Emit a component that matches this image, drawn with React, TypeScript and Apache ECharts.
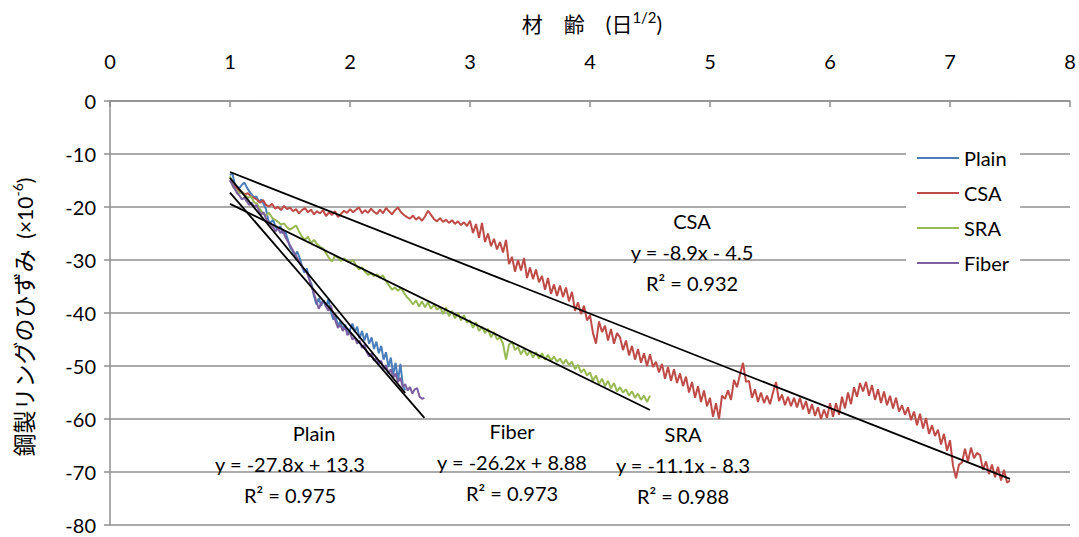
import React, { useEffect, useRef } from "react";
import * as echarts from "echarts";

// ---- data ----
const SERIES_NAMES = ["Plain", "CSA", "SRA", "Fiber"];
const SERIES_COLORS = ["#4a7ebb", "#be4b48", "#98b954", "#7d60a0"];

// Plain: x from 1.00 step 0.02
const PLAIN_X0 = 1.0;
const PLAIN_DX = 0.02;
const plainY = [
  -14.0, -13.6, -15.8, -16.2, -16.4, -15.8, -15.4, -16.3, -17.0, -17.6,
  -18.2, -18.0, -19.0, -18.6, -19.4, -20.4, -22.6, -23.0, -22.4, -23.8,
  -24.2, -23.6, -25.0, -24.6, -26.0, -27.6, -28.2, -29.2, -28.4, -29.6,
  -31.2, -32.4, -31.6, -33.6, -34.6, -36.8, -38.4, -37.2, -38.6, -37.6,
  -38.8, -37.4, -39.6, -41.2, -40.6, -42.4, -41.6, -43.0, -42.2, -44.0,
  -43.2, -42.0, -43.6, -42.6, -44.8, -43.4, -45.2, -43.8, -45.8, -44.6,
  -46.8, -45.4, -47.6, -46.2, -48.8, -47.4, -50.2, -48.4, -51.6, -49.4,
  -52.8, -49.6, -53.6, -54.6,
];

// Fiber: x from 1.00 step 0.02
const FIBER_X0 = 1.0;
const FIBER_DX = 0.02;
const fiberY = [
  -14.9, -15.8, -16.6, -17.4, -17.9, -18.6, -18.2, -19.0, -19.6, -19.2,
  -20.0, -19.6, -20.6, -21.4, -21.0, -22.2, -22.8, -23.4, -23.8, -24.6,
  -24.0, -24.9, -24.4, -25.6, -26.4, -27.2, -28.0, -28.8, -29.6, -30.4,
  -31.2, -31.8, -32.4, -33.6, -35.0, -36.4, -37.8, -39.2, -38.2, -37.6,
  -38.8, -39.6, -38.6, -40.2, -41.6, -42.8, -42.2, -43.4, -42.6, -44.2,
  -43.6, -45.0, -44.6, -45.8, -45.2, -46.6, -46.0, -47.4, -48.2, -47.6,
  -49.0, -48.4, -49.6, -49.0, -50.6, -49.8, -51.4, -50.6, -52.2, -51.4,
  -53.0, -52.2, -54.0, -53.4, -54.6, -54.0, -55.2, -54.4, -54.2, -55.8,
  -56.2, -56.0,
];

// SRA: x from 1.00 step 0.025
const SRA_X0 = 1.0;
const SRA_DX = 0.025;
const sraY = [
  -14.2, -16.2, -16.8, -17.4, -17.2, -17.8, -18.3, -18.0, -19.1, -19.4,
  -20.4, -21.2, -21.6, -21.1, -22.0, -22.4, -22.8, -23.3, -23.1, -23.8,
  -24.3, -23.9, -23.5, -24.6, -25.6, -26.2, -25.6, -26.8, -26.2, -27.0,
  -27.5, -27.8, -28.7, -29.6, -30.3, -29.2, -29.6, -30.2, -29.7, -30.1,
  -30.4, -30.0, -31.0, -31.8, -31.4, -32.2, -32.8, -32.5, -33.0, -32.7,
  -33.3, -32.9, -34.0, -34.8, -35.6, -35.2, -35.8, -35.3, -36.2, -37.0,
  -37.6, -38.4, -37.6, -38.8, -37.8, -38.9, -38.0, -39.2, -38.4, -39.4,
  -38.8, -40.2, -39.0, -40.6, -39.6, -41.0, -40.0, -41.4, -40.4, -41.8,
  -41.4, -42.8, -41.8, -43.4, -42.6, -43.8, -43.0, -44.6, -43.6, -45.0,
  -44.6, -45.8, -48.8, -46.0, -45.4, -47.0, -46.4, -47.8, -46.8, -48.0,
  -47.2, -48.4, -47.4, -48.6, -47.6, -48.8, -47.9, -49.0, -48.2, -49.2,
  -48.6, -49.6, -48.8, -49.8, -49.2, -50.6, -49.8, -51.2, -50.6, -51.8,
  -51.2, -52.8, -51.8, -53.4, -52.4, -53.8, -52.8, -54.2, -53.2, -54.8,
  -54.0, -55.0, -54.4, -55.6, -54.8, -56.0, -55.2, -56.4, -55.6, -56.8,
  -55.6,
];

// CSA: x from 1.00 step 0.025
const CSA_X0 = 1.0;
const CSA_DX = 0.025;
const csaY = [
  -15.0, -15.8, -16.3, -16.9, -17.2, -17.6, -17.4, -18.0, -18.3, -18.6,
  -19.2, -18.7, -19.6, -19.9, -19.4, -20.3, -20.0, -20.6, -19.8, -20.4,
  -20.1, -20.8, -20.4, -21.2, -20.6, -20.2, -21.0, -20.5, -21.4, -20.8,
  -21.2, -20.6, -21.7, -21.0, -21.5, -20.8, -21.9, -21.3, -20.7, -21.1,
  -20.4, -21.0, -20.5, -20.1, -21.2, -20.6, -21.1, -20.3, -20.9, -21.3,
  -20.5, -21.2, -20.2, -20.8, -21.4, -20.6, -20.1, -21.0, -21.5, -21.9,
  -22.2, -21.6, -22.4, -21.9, -22.6, -21.8, -20.7, -21.5, -22.3, -22.7,
  -22.1, -22.8, -22.4, -23.0, -22.5, -23.2, -22.7, -23.4, -22.9, -23.6,
  -22.6, -24.9, -23.2, -25.8, -23.0, -26.6, -25.0, -27.4, -26.0, -28.0,
  -26.6, -28.6, -26.2, -30.8, -29.4, -32.2, -30.0, -32.0, -29.6, -33.4,
  -31.4, -33.6, -31.8, -34.2, -33.0, -35.6, -33.4, -36.4, -34.6, -36.8,
  -34.8, -37.0, -35.2, -37.8, -36.0, -39.6, -38.0, -40.2, -38.6, -41.4,
  -40.4, -43.8, -45.8, -41.6, -43.6, -42.4, -45.2, -43.0, -45.8, -43.8,
  -44.6, -47.0, -45.2, -48.0, -46.2, -48.8, -46.8, -49.4, -47.6, -50.0,
  -47.8, -50.2, -49.2, -51.2, -49.6, -52.4, -50.2, -52.8, -50.6, -53.2,
  -51.4, -53.8, -52.0, -55.0, -53.0, -56.0, -53.8, -56.8, -54.6, -57.6,
  -56.0, -59.6, -57.0, -60.0, -55.6, -56.2, -54.6, -56.4, -52.6, -54.0,
  -51.6, -49.4, -53.0, -52.8, -56.0, -54.4, -56.8, -55.0, -57.0, -55.6,
  -57.2, -55.0, -53.0, -56.6, -55.4, -57.4, -55.8, -57.6, -56.0, -57.8,
  -56.0, -58.2, -56.6, -59.0, -57.2, -59.4, -57.8, -60.0, -58.2, -59.8,
  -57.0, -59.6, -57.0, -59.2, -55.8, -58.0, -55.0, -57.2, -54.0, -55.8,
  -53.2, -54.8, -53.0, -55.6, -53.6, -56.4, -54.4, -57.0, -54.8, -57.4,
  -55.6, -58.0, -56.0, -58.6, -57.4, -59.2, -57.8, -60.2, -58.6, -61.2,
  -59.0, -61.8, -59.8, -62.8, -61.2, -63.2, -62.0, -64.8, -62.8, -66.0,
  -64.0, -68.8, -71.2, -68.6, -68.2, -65.6, -68.0, -65.4, -67.4, -66.4,
  -66.8, -69.6, -68.0, -70.4, -68.6, -71.0, -69.0, -71.6, -69.6, -72.0,
  -71.6,
];

// trend line end points [x, y]
const plainTrend = [[1.0, -14.5], [2.46, -55.1]];
const csaTrend = [[1.0, -13.4], [7.5, -71.3]];
const sraTrend = [[1.0, -19.4], [4.5, -58.3]];
const fiberTrend = [[1.0, -17.3], [2.62, -59.8]];

// annotation texts
const annotTitles = ["Plain", "Fiber", "SRA", "CSA"];
const annotEquations = ["y = -27.8x + 13.3", "y = -26.2x + 8.88", "y = -11.1x - 8.3", "y = -8.9x - 4.5"];
const annotR2 = ["R² = 0.975", "R² = 0.973", "R² = 0.988", "R² = 0.932"];

const X_TITLE = "材\u3000齢\u3000(日";
const X_TITLE_SUP = "1/2";
const Y_TITLE = "鋼製リングのひずみ";
const Y_TITLE_UNIT = "(×10";
const Y_TITLE_SUP = "-6";

const toPairs = (x0: number, dx: number, ys: number[]) =>
  ys.map((y, i) => [Math.round((x0 + i * dx) * 1000) / 1000, y]);

const FONT = "Lato, 'Noto Sans CJK JP', sans-serif";

export default function App() {
  const ref = useRef<HTMLDivElement>(null);
  useEffect(() => {
    if (!ref.current) return;
    const chart = echarts.init(ref.current, undefined, { renderer: "svg" });
    const dataSets = [
      toPairs(PLAIN_X0, PLAIN_DX, plainY),
      toPairs(CSA_X0, CSA_DX, csaY),
      toPairs(SRA_X0, SRA_DX, sraY),
      toPairs(FIBER_X0, FIBER_DX, fiberY),
    ];
    const trends = [plainTrend, csaTrend, sraTrend, fiberTrend];
    const gridColor = "#8f8f8f";

    // annotation positions (pixel layout)
    const annotPos = [
      [290, 433],
      [512, 431],
      [683, 434],
      [692, 221],
    ];
    const graphics: any[] = [];
    annotTitles.forEach((t, i) => {
      const [cx, cy] = annotPos[i];
      [t, annotEquations[i], annotR2[i]].forEach((s, k) => {
        graphics.push({
          type: "text",
          x: i === 0 && k === 0 ? cx + 24 : cx,
          y: cy + k * 31,
          z: 10,
          style: {
            text: s,
            fontSize: 20,
            fontFamily: FONT,
            fill: "#000",
            align: "center",
            verticalAlign: "middle",
          },
        });
      });
    });
    graphics.push({
      type: "text",
      x: 592,
      y: 23,
      style: {
        text: X_TITLE + "{s|" + X_TITLE_SUP + "})",
        fontSize: 21,
        lineHeight: 28,
        fontFamily: FONT,
        fill: "#000",
        align: "center",
        verticalAlign: "middle",
        rich: { s: { fontSize: 15, lineHeight: 16, verticalAlign: "top", fontFamily: FONT } },
      },
    });
    graphics.push({
      type: "text",
      x: 24,
      y: 317,
      rotation: Math.PI / 2,
      style: {
        text: Y_TITLE + "{u|  " + Y_TITLE_UNIT + "}{s|" + Y_TITLE_SUP + "}{u|)}",
        fontSize: 23,
        lineHeight: 28,
        fontFamily: FONT,
        fill: "#000",
        align: "center",
        verticalAlign: "middle",
        rich: {
          u: { fontSize: 21, lineHeight: 28, fontFamily: FONT },
          s: { fontSize: 14, lineHeight: 15, verticalAlign: "top", fontFamily: FONT },
        },
      },
    });

    const option: any = {
      animation: false,
      backgroundColor: "#fff",
      grid: { left: 110, top: 101, width: 960, height: 424, containLabel: false },
      xAxis: {
        type: "value",
        position: "top",
        min: 0,
        max: 8,
        interval: 1,
        axisLine: { show: true, onZero: false, lineStyle: { color: gridColor, width: 1.5 } },
        axisTick: { show: true, inside: true, length: 6, lineStyle: { color: gridColor, width: 1.5 } },
        axisLabel: { fontSize: 20, color: "#000", margin: 30, fontFamily: FONT },
        splitLine: { show: false },
      },
      yAxis: {
        type: "value",
        min: -80,
        max: 0,
        interval: 10,
        axisLine: { show: true, onZero: false, lineStyle: { color: gridColor, width: 1.5 } },
        axisTick: { show: true, inside: false, length: 6, lineStyle: { color: gridColor, width: 1.5 } },
        axisLabel: { fontSize: 20, color: "#000", margin: 14, fontFamily: FONT },
        splitLine: { show: true, lineStyle: { color: gridColor, width: 1.5 } },
      },
      legend: {
        data: SERIES_NAMES,
        orient: "vertical",
        left: 906,
        top: 142,
        backgroundColor: "#fff",
        padding: [6, 11, 6, 11],
        itemGap: 15,
        itemWidth: 42,
        itemHeight: 2,
        icon: "rect",
        textStyle: { fontSize: 20, fontFamily: FONT, color: "#000" },
      },
      series: [
        ...SERIES_NAMES.map((name, i) => ({
          name,
          type: "line",
          data: dataSets[i],
          showSymbol: false,
          symbol: "none",
          lineStyle: { color: SERIES_COLORS[i], width: 2 },
          itemStyle: { color: SERIES_COLORS[i] },
          z: 2,
        })),
        ...SERIES_NAMES.map((name, i) => ({
          name: name + " trend",
          type: "line",
          data: trends[i],
          showSymbol: false,
          symbol: "none",
          lineStyle: { color: "#000", width: 1.8 },
          itemStyle: { color: "#000" },
          z: 3,
        })),
      ],
      graphic: graphics,
    };
    chart.setOption(option);
    return () => chart.dispose();
  }, []);
  return (
    <div
      ref={ref}
      style={{ position: "fixed", left: 0, top: 0, width: 1079, height: 537, background: "#fff" }}
    />
  );
}
